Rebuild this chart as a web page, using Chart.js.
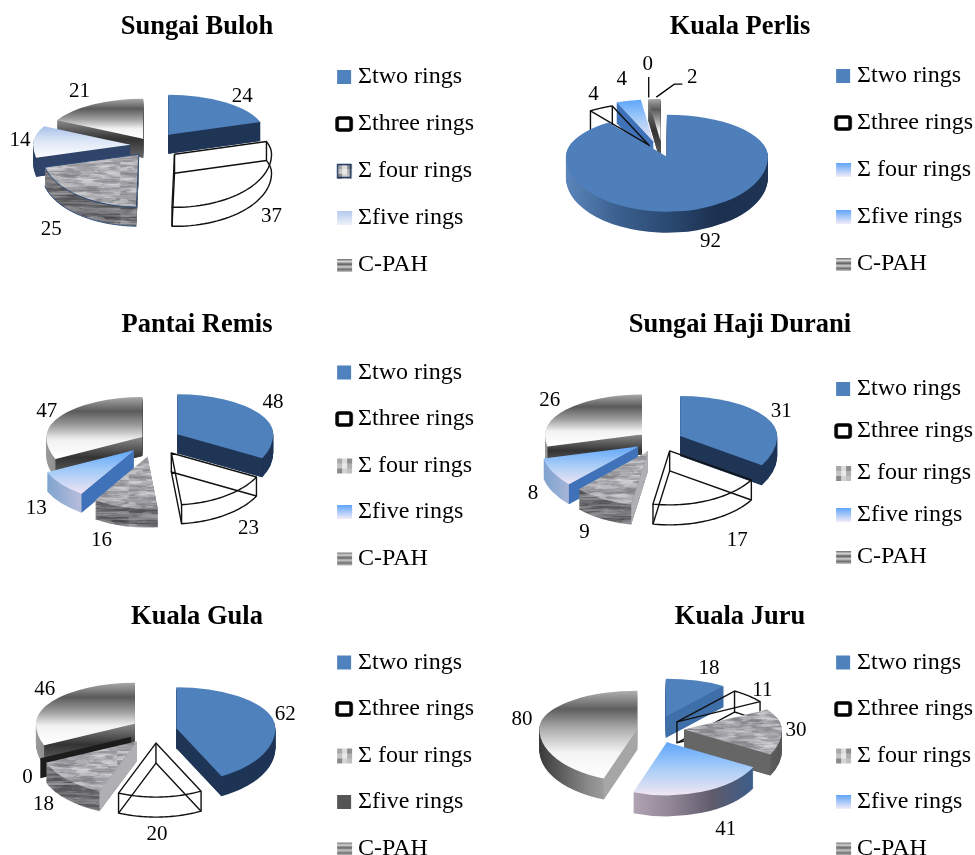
<!DOCTYPE html>
<html>
<head>
<meta charset="utf-8">
<title>PAH rings by site</title>
<script src="https://cdn.jsdelivr.net/npm/chart.js@4"></script>
<style>
  html, body { margin: 0; width: 975px; height: 855px; overflow: hidden; background: #fff; }
  body { position: relative; }
  canvas { position: absolute; }
</style>
</head>
<body>
<script>
// --- Data ---
const categories = ['Σtwo rings', 'Σthree rings', 'Σ four rings', 'Σfive rings', 'C-PAH'];
const sungaiBuloh = [24, 37, 25, 14, 21];
const kualaPerlis = [92, 4, 4, 0, 2];
const pantaiRemis = [48, 23, 16, 13, 47];
const sungaiHajiDurani = [31, 17, 9, 8, 26];
const kualaGula = [62, 20, 18, 0, 46];
const kualaJuru = [18, 11, 30, 41, 80];

const FONT = '"Liberation Serif", "Times New Roman", serif';

// --- Layout of each panel (page pixels) ---
const LEFT_COL = { left: -90, width: 574 };
const RIGHT_COL = { left: 497, width: 486 };
const panels = [
  { title: 'Sungai Buloh', values: sungaiBuloh, col: LEFT_COL, top: 11, height: 289, legendGap: 23,
    kinds: ['blue', 'wire', 'noiseNavy', 'paleSky', 'bands'],
    cx: 152, cy: 146, rx: 97, ryBack: 40, ryFront: 53, depth: 19, ky: 0.5, explode: [28, 28, 21, 22, 17],
    nudge: [[8, 4], [6, 5], [-17, 6], [2, 2], [-5, -3]] },
  { title: 'Kuala Perlis', values: kualaPerlis, col: RIGHT_COL, top: 11, height: 288, legendGap: 23,
    kinds: ['bluePerlis', 'wire', 'sky', 'sky', 'bands'],
    cx: 663, cy: 153, rx: 101, ryBack: 42, ryFront: 55, depth: 21, ky: 0.3, explode: [13, 30, 40, 40, 40],
    nudge: [[8, 0], [0, -3], [-3, -10], [4, -23.5], [39, -10]], leaders: [3, 4] },
  { title: 'Pantai Remis', values: pantaiRemis, col: LEFT_COL, top: 309, height: 284, legendGap: 22.5,
    kinds: ['blue', 'wire', 'noise', 'sky', 'bands'],
    cx: 155, cy: 441, rx: 96, ryBack: 40, ryFront: 52, depth: 19, ky: 0.5, explode: [26, 29, 32, 28, 15],
    nudge: [[0, -5], [14, 4], [-20, 3], [-13, -3], [-1, 2]] },
  { title: 'Sungai Haji Durani', values: sungaiHajiDurani, col: RIGHT_COL, top: 309, height: 278, legendGap: 18,
    kinds: ['blue', 'wire', 'noise', 'sky', 'bands'],
    cx: 660, cy: 441, rx: 97, ryBack: 40, ryFront: 54, depth: 20, ky: 0.45, explode: [23, 24, 26, 25, 23],
    nudge: [[2, 0], [22, 9], [-11, 3], [-6, -5], [-4, -2]] },
  { title: 'Kuala Gula', values: kualaGula, col: LEFT_COL, top: 601, height: 282, legendGap: 22.5,
    kinds: ['blue', 'wire', 'noise', 'darkGray', 'bands'],
    cx: 155, cy: 731, rx: 99, ryBack: 41, ryFront: 54, depth: 20, ky: 0.55, explode: [22, 22, 26, 26, 24],
    nudge: [[-3, -1], [-4, 5], [-13, -4], [2, -5], [6, -5]] },
  { title: 'Kuala Juru', values: kualaJuru, col: RIGHT_COL, top: 601, height: 282, legendGap: 22.5,
    kinds: ['blueJuru', 'wire', 'noiseDark', 'skyDeep', 'bandsJuru'],
    cx: 655, cy: 730, rx: 98, ryBack: 38, ryFront: 53, depth: 21, ky: 0.4, explode: [35, 30, 29, 33, 18],
    nudge: [[8, -1], [2, 3], [-2, 3], [18, 5], [-3, -1]] }
];

// --- Texture for the mottled slices (fixed sequence, only looks) ---
function makeTexture(base, shades, flat) {
  const c = document.createElement('canvas');
  c.width = c.height = 180;
  const g = c.getContext('2d');
  let seed = 4711;
  const next = () => (seed = (seed * 16807) % 2147483647) / 2147483647;
  g.fillStyle = base;
  g.fillRect(0, 0, 180, 180);
  g.globalAlpha = 0.4;
  for (let i = 0; i < 1500; i++) {
    g.fillStyle = shades[Math.floor(next() * shades.length)];
    g.beginPath();
    g.ellipse(next() * 180, next() * 180, 5 + next() * (flat ? 30 : 12), flat ? 1 + next() * 2.5 : 1.5 + next() * 4, 0, 0, Math.PI * 2);
    g.fill();
  }
  return c;
}

const topTexture = makeTexture('#b4b4b8', ['#88888e', '#a0a0a4', '#c8c8cc', '#dedee2', '#77777c'], false);
const wallTexture = makeTexture('#77777a', ['#404044', '#55555a', '#8e8e92', '#a8a8ac'], true);

const sliceStyles = {
  blue: { top: '#4f81bd', wall: '#1f3556', inner: '#1f3556', swatch: 'solid', color: '#4f81bd' },
  bluePerlis: { top: '#4f7fba', wall: { x: ['#5b86bb', '#3c6190', '#2a4a72', '#1c304f', '#1f3556'] }, inner: '#1f3556', swatch: 'solid', color: '#4f81bd' },
  blueJuru: { top: '#4f81bd', wall: '#3a679f', inner: '#3f6fa8', swatch: 'solid', color: '#4f81bd' },
  wire: { wire: true, swatch: 'ring' },
  noise: { top: 'topTexture', wall: 'wallTexture', inner: '#b0b0b4', swatch: 'mottle' },
  noiseNavy: { top: 'topTexture', wall: 'wallTexture', inner: '#777', outline: '#2b4a78', swatch: 'mottle', border: '#1f3b66' },
  noiseDark: { top: 'topTexture', wall: { x: ['#555', '#777', '#555'] }, inner: '#666', swatch: 'mottle' },
  sky: { top: { y: ['#5fa6fb', '#a8cdf7', '#efe4f3'] }, wall: { x: ['#7fa3cf', '#c6c4de', '#e8d8e8'] }, inner: '#3f72b8', swatch: 'fade', from: '#5fa6fb', to: '#f3ecf7' },
  paleSky: { top: { y: ['#a6bfe9', '#dbe5f6', '#fbfcff'] }, wall: '#2f4468', inner: '#2f4468', swatch: 'fade', from: '#b4caed', to: '#eef2fb' },
  skyDeep: { top: { y: ['#5fa6fb', '#a8cdf7', '#f1e6f3'] }, wall: { x: ['#b0a4b4', '#8f8494', '#5e5a6c', '#3c5d8a'] }, inner: '#3f72b8', swatch: 'fade', from: '#5fa6fb', to: '#f3ecf7' },
  darkGray: { top: '#555', wall: '#222', inner: '#1c1c1c', swatch: 'solid', color: '#555', zeroWall: true },
  bands: { top: { y: ['#a8a8a8', '#5a5a5a', '#9c9c9c', '#f2f2f2', '#fff'] }, wall: { x: ['#999', '#666', '#444'] }, inner: { y: ['#8a8a8a', '#333', '#666'] }, swatch: 'bands' },
  bandsJuru: { top: { y: ['#b0b0b0', '#5e5e5e', '#a8a8a8', '#f4f4f4', '#fff'] }, wall: { x: ['#3a3a3a', '#8a8a8a', '#c4c4c4'] }, inner: '#a6a6a6', swatch: 'bands' }
};

// --- Legend swatches ---
function makeSwatch(kind) {
  const s = sliceStyles[kind];
  const c = document.createElement('canvas');
  c.width = 20; c.height = 18;
  const g = c.getContext('2d');
  if (s.swatch === 'solid') {
    g.fillStyle = s.color;
    g.fillRect(3, 2, 14, 14);
  } else if (s.swatch === 'ring') {
    g.strokeStyle = '#000';
    g.lineWidth = 3.6;
    g.beginPath();
    g.roundRect(3, 3, 14, 12, 2);
    g.stroke();
  } else if (s.swatch === 'mottle') {
    const tiles = ['#a8a8a8', '#dcdcdc', '#8e8e8e', '#c4c4c4', '#e8e8e8', '#b0b0b0', '#8a8a8a', '#d4d4d4', '#c0c0c0'];
    tiles.forEach((t, i) => {
      g.fillStyle = t;
      g.fillRect(3 + (i % 3) * 5, 2 + Math.floor(i / 3) * 5, 5, 5);
    });
    if (s.border) {
      g.strokeStyle = s.border;
      g.lineWidth = 1.5;
      g.strokeRect(3.5, 2.5, 13, 13);
    }
  } else if (s.swatch === 'fade') {
    const f = g.createLinearGradient(0, 2, 0, 16);
    f.addColorStop(0, s.from);
    f.addColorStop(1, s.to);
    g.fillStyle = f;
    g.fillRect(3, 2, 15, 14);
  } else {
    const f = g.createLinearGradient(0, 3, 0, 16);
    ['#6a6a6a', '#d8d8d8', '#5c5c5c', '#d0d0d0', '#6e6e6e', '#c8c8c8'].forEach((t, i) => f.addColorStop(i / 5, t));
    g.fillStyle = f;
    g.fillRect(3, 3, 15, 13);
  }
  return c;
}

// --- Fill helpers ---
function toFill(ctx, spec, box) {
  if (typeof spec !== 'object') {
    if (spec === 'topTexture') return ctx.createPattern(topTexture, 'repeat');
    if (spec === 'wallTexture') return ctx.createPattern(wallTexture, 'repeat');
    return spec;
  }
  const stops = spec.x || spec.y;
  const grad = spec.x
    ? ctx.createLinearGradient(box.x0, 0, box.x1, 0)
    : ctx.createLinearGradient(0, box.y0, 0, box.y1);
  stops.forEach((s, i) => grad.addColorStop(i / (stops.length - 1), s));
  return grad;
}

// bounding box of a sector of the library's arc, in its own coordinates
function sectorBox(arc) {
  const R = arc.outerRadius;
  const box = { x0: arc.x, x1: arc.x, y0: arc.y, y1: arc.y };
  const steps = 24;
  for (let i = 0; i <= steps; i++) {
    const a = arc.startAngle + (arc.endAngle - arc.startAngle) * i / steps;
    const px = arc.x + R * Math.cos(a), py = arc.y + R * Math.sin(a);
    box.x0 = Math.min(box.x0, px); box.x1 = Math.max(box.x1, px);
    box.y0 = Math.min(box.y0, py); box.y1 = Math.max(box.y1, py);
  }
  return box;
}

function slicePlace(panel, arc, i) {
  const mid = (arc.startAngle + arc.endAngle) / 2;
  const e = panel.explode[i];
  return {
    mid,
    x: panel.cx - panel.col.left + e * Math.cos(mid),
    y: panel.cy - panel.top + e * panel.ky * Math.sin(mid)
  };
}

// the near half of the pie looks deeper than the far half
function rimPoint(p, panel, a, dy) {
  const s = Math.sin(a);
  return [p.x + panel.rx * Math.cos(a), p.y + dy + (s > 0 ? panel.ryFront : panel.ryBack) * s];
}

function traceRim(ctx, p, panel, a0, a1, dy) {
  const steps = 40;
  for (let i = 0; i <= steps; i++) {
    const c = rimPoint(p, panel, a0 + (a1 - a0) * i / steps, dy);
    ctx.lineTo(c[0], c[1]);
  }
}

function strokeSector(ctx, p, panel, a0, a1, dy) {
  ctx.beginPath();
  ctx.moveTo(p.x, p.y + dy);
  traceRim(ctx, p, panel, a0, a1, dy);
  ctx.closePath();
  ctx.stroke();
}

function drawWire(ctx, p, panel, arc) {
  const a0 = arc.startAngle, a1 = arc.endAngle, d = panel.depth;
  ctx.save();
  ctx.strokeStyle = '#111';
  ctx.lineWidth = 1.4;
  ctx.lineJoin = 'round';
  strokeSector(ctx, p, panel, a0, a1, d);
  strokeSector(ctx, p, panel, a0, a1, 0);
  ctx.beginPath();
  [[p.x, p.y], rimPoint(p, panel, a0, 0), rimPoint(p, panel, a1, 0)].forEach(c => {
    ctx.moveTo(c[0], c[1]);
    ctx.lineTo(c[0], c[1] + d);
  });
  ctx.stroke();
  ctx.restore();
}

function drawEdgeWall(ctx, p, panel, angle, spec) {
  const e = rimPoint(p, panel, angle, 0);
  const d = panel.depth;
  const box = { x0: Math.min(p.x, e[0]), x1: Math.max(p.x, e[0]) + 1, y0: Math.min(p.y, e[1]), y1: Math.max(p.y, e[1]) + d };
  ctx.fillStyle = toFill(ctx, spec, box);
  ctx.beginPath();
  ctx.moveTo(p.x, p.y);
  ctx.lineTo(e[0], e[1]);
  ctx.lineTo(e[0], e[1] + d);
  ctx.lineTo(p.x, p.y + d);
  ctx.closePath();
  ctx.fill();
}

function drawSlice(ctx, arc, i, panel) {
  const style = sliceStyles[panel.kinds[i]];
  const p = slicePlace(panel, arc, i);
  const a0 = arc.startAngle, a1 = arc.endAngle;
  if (style.wire) {
    drawWire(ctx, p, panel, arc);
    return;
  }
  if (arc.circumference === 0) {
    if (style.zeroWall) drawEdgeWall(ctx, p, panel, a0, style.inner);
    return;
  }
  const R = arc.outerRadius;
  const box = sectorBox(arc);
  // draw the library's arc squashed, far half and near half with their own depth
  const paint = (dy, spec) => {
    [[panel.ryBack, -1000, 1000.5], [panel.ryFront, -0.5, 1000]].forEach(([ry, clipTop, clipH]) => {
      const sy = ry / R;
      ctx.save();
      ctx.translate(p.x, p.y + dy);
      ctx.beginPath();
      ctx.rect(-1000, clipTop, 2000, clipH);
      ctx.clip();
      ctx.scale(panel.rx / R, sy);
      ctx.translate(-arc.x, -arc.y);
      const fill = toFill(ctx, spec, box);
      if (fill instanceof CanvasPattern) fill.setTransform(new DOMMatrix().translate(0, -dy / sy));
      const base = arc.options;
      arc.options = Object.assign({}, base, { backgroundColor: fill, borderWidth: 0 });
      arc.draw(ctx);
      arc.options = base;
      ctx.restore();
    });
  };
  for (let d = panel.depth; d >= 1; d--) paint(d, style.wall);
  if (Math.cos(a0) < -0.02) drawEdgeWall(ctx, p, panel, a0, style.inner);
  if (Math.cos(a1) > 0.02) drawEdgeWall(ctx, p, panel, a1, style.inner);
  paint(0, style.top);
  if (style.outline) {
    ctx.save();
    ctx.strokeStyle = style.outline;
    ctx.lineWidth = 1;
    strokeSector(ctx, p, panel, a0, a1, 0);
    ctx.beginPath();
    traceRim(ctx, p, panel, a0, a1, panel.depth);
    ctx.stroke();
    ctx.restore();
  }
}

function drawLabels(ctx, arcs, panel) {
  ctx.save();
  ctx.font = '21px ' + FONT;
  ctx.fillStyle = '#000';
  ctx.textAlign = 'center';
  ctx.textBaseline = 'middle';
  arcs.forEach((arc, i) => {
    const p = slicePlace(panel, arc, i);
    const c = Math.cos(p.mid), s = Math.sin(p.mid);
    const lx = p.x + (panel.rx + 16) * c + panel.nudge[i][0];
    const ly = p.y + ((s > 0 ? panel.ryFront : panel.ryBack) + 12) * s + (s > 0 ? panel.depth : 0) + panel.nudge[i][1];
    ctx.fillText(String(panel.values[i]), lx, ly);
    if (panel.leaders && panel.leaders.includes(i)) {
      const rim = rimPoint(p, panel, p.mid, 0);
      ctx.strokeStyle = '#000';
      ctx.lineWidth = 1.3;
      ctx.beginPath();
      if (lx - rim[0] > 15) {
        ctx.moveTo(lx - 10, ly + 7);
        ctx.lineTo(lx - 18, ly + 7);
        ctx.lineTo(rim[0] + 2, rim[1] - 2);
      } else {
        ctx.moveTo(lx + 1, ly + 13);
        ctx.lineTo(lx + 1, rim[1] - 2);
      }
      ctx.stroke();
    }
  });
  ctx.restore();
}

function makePie3d(panel) {
  return {
    id: 'pie3d',
    beforeDatasetsDraw(chart) {
      const arcs = chart.getDatasetMeta(0).data;
      const order = arcs.map((arc, i) => i)
        .sort((a, b) => slicePlace(panel, arcs[a], a).y - slicePlace(panel, arcs[b], b).y);
      order.forEach(i => drawSlice(chart.ctx, arcs[i], i, panel));
      drawLabels(chart.ctx, arcs, panel);
      return false;
    }
  };
}

// --- Charts ---
panels.forEach(panel => {
  const canvas = document.createElement('canvas');
  canvas.width = panel.col.width;
  canvas.height = panel.height;
  canvas.style.left = panel.col.left + 'px';
  canvas.style.top = panel.top + 'px';
  document.body.appendChild(canvas);

  new Chart(canvas, {
    type: 'pie',
    data: {
      labels: categories,
      datasets: [{ data: panel.values, borderWidth: 0, backgroundColor: '#4f81bd' }]
    },
    options: {
      responsive: false,
      animation: false,
      events: [],
      plugins: {
        title: {
          display: true,
          text: panel.title,
          color: '#000',
          padding: 0,
          font: { family: FONT, size: 26.5, weight: 'bold' }
        },
        tooltip: { enabled: false },
        legend: {
          position: 'right',
          align: 'end',
          labels: {
            color: '#000',
            font: { family: FONT, size: 24 },
            boxWidth: 4,
            padding: panel.legendGap,
            usePointStyle: true,
            generateLabels: () => categories.map((text, i) => ({
              text,
              index: i,
              hidden: false,
              fontColor: '#000',
              pointStyle: makeSwatch(panel.kinds[i]),
              lineWidth: 0
            }))
          }
        }
      }
    },
    plugins: [makePie3d(panel)]
  });
});
</script>
</body>
</html>
